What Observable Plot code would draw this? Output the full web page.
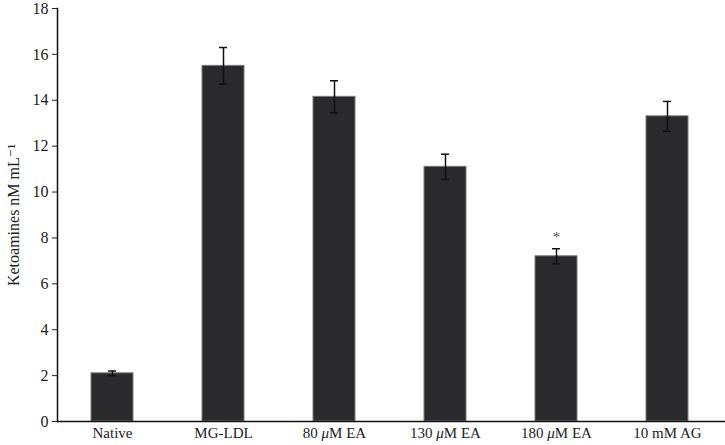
<!DOCTYPE html>
<html>
<head>
<meta charset="utf-8">
<script src="https://cdn.jsdelivr.net/npm/d3@7"></script>
<script src="https://cdn.jsdelivr.net/npm/@observablehq/plot@0.6"></script>
<style>
  body { margin: 0; background: #fff; }
  svg { font-family: "Liberation Serif", "DejaVu Serif", serif; }
</style>
</head>
<body>
<div id="chart"></div>
<script>
const categories = ["Native", "MG-LDL", "80 μM EA", "130 μM EA", "180 μM EA", "10 mM AG"];
const means = [2.1, 15.5, 14.15, 11.1, 7.2, 13.3];
const errors = [0.1, 0.8, 0.7, 0.55, 0.33, 0.65];
const marks = ["", "", "", "", "*", ""];
const yTicks = [0, 2, 4, 6, 8, 10, 12, 14, 16, 18];
const yLabel = "Ketoamines nM mL⁻¹";

const data = categories.map((c, i) => ({
  cat: c, v: means[i], lo: means[i] - errors[i], hi: means[i] + errors[i], mark: marks[i]
}));

const chart = Plot.plot({
  width: 725,
  height: 445,
  marginLeft: 57,
  marginRight: 2,
  marginTop: 8,
  marginBottom: 24,
  style: { fontFamily: "Liberation Serif, DejaVu Serif, serif", fontSize: "15px", color: "#222", background: "#fff" },
  x: { domain: categories, paddingInner: 0.62, paddingOuter: 0.31, label: null },
  y: { domain: [0, 18], label: null },
  marks: [
    Plot.axisY({ ticks: yTicks, tickSize: 5, tickPadding: 4, label: null, fontSize: 16 }),
    Plot.axisX({ tickSize: 0, tickPadding: 6, label: null, fontSize: 15 }),
    Plot.text([yLabel], { frameAnchor: "left", rotate: -90, dx: -44, textAnchor: "middle", fontSize: 16, fill: "#222" }),
    Plot.barY(data, { x: "cat", y: "v", fill: "#2a2a2c", stroke: "#7a7a7a", strokeWidth: 1 }),
    Plot.ruleX(data, { x: "cat", y1: "lo", y2: "hi", stroke: "#111", strokeWidth: 1.5 }),
    Plot.tickY(data, { x: "cat", y: "lo", insetLeft: 17, insetRight: 17, stroke: "#111", strokeWidth: 1.5 }),
    Plot.tickY(data, { x: "cat", y: "hi", insetLeft: 17, insetRight: 17, stroke: "#111", strokeWidth: 1.5 }),
    Plot.text(data.filter(d => d.mark), { x: "cat", y: "hi", text: "mark", dy: -12, fontSize: 15, fill: "#555" }),
    Plot.ruleY([0], { stroke: "#111", strokeWidth: 1.5, insetRight: -2 }),
    Plot.frame({ anchor: "left", stroke: "#111", strokeWidth: 1.5 })
  ]
});
document.getElementById("chart").appendChild(chart);

// italicize the mu in tick labels
d3.select(chart).selectAll("g[aria-label='x-axis tick label'] text").each(function() {
  const t = this.textContent;
  if (t.includes("μ")) {
    const sel = d3.select(this);
    const parts = t.split("μ");
    sel.text(null);
    sel.append("tspan").text(parts[0]);
    sel.append("tspan").attr("font-style", "italic").text("μ");
    sel.append("tspan").text(parts[1]);
  }
});
</script>
</body>
</html>
